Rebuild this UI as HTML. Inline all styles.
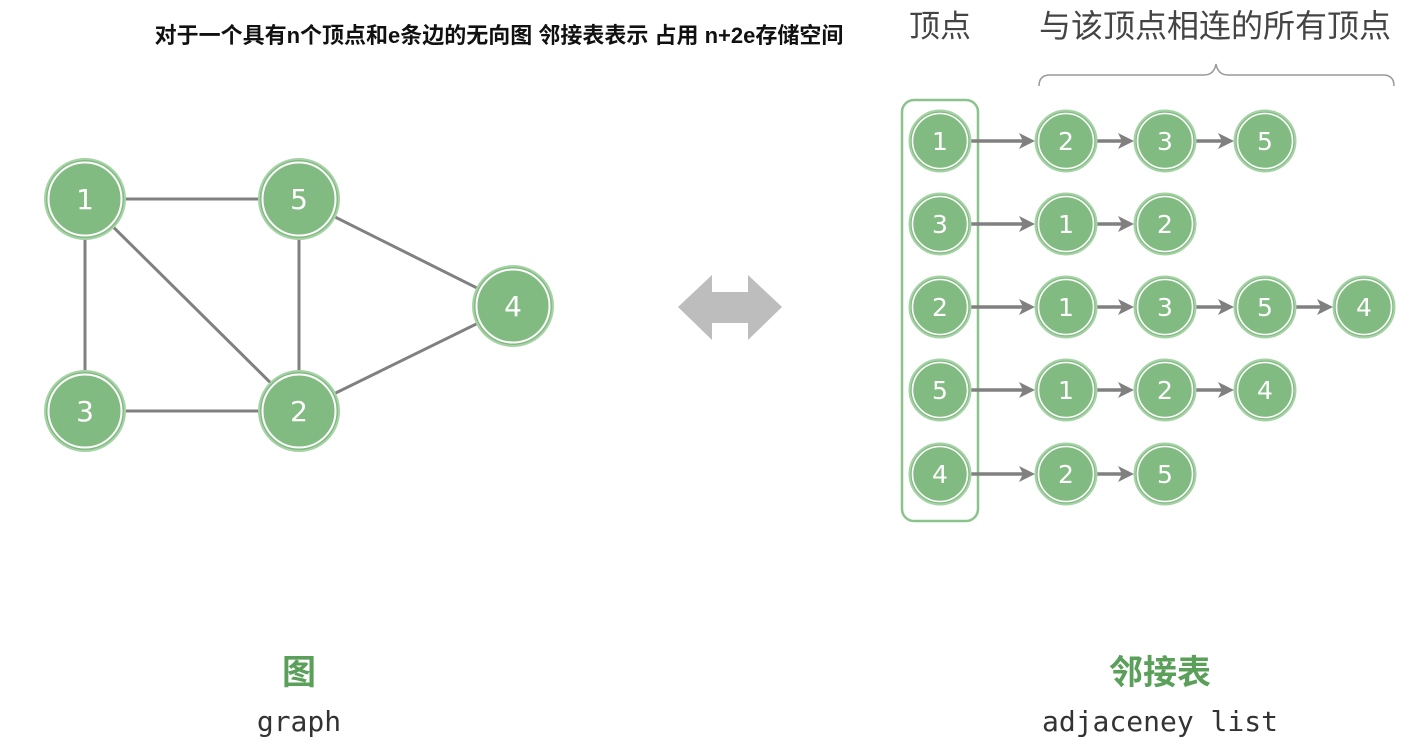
<!DOCTYPE html>
<html><head><meta charset="utf-8"><style>
body{margin:0;background:#fff;width:1415px;height:745px;overflow:hidden}
</style></head><body>
<svg width="1415" height="745" xmlns="http://www.w3.org/2000/svg">
<defs>
<g id="gn"><circle r="40" fill="#82bb82" stroke="#a6d3a6" stroke-width="2"/><circle r="36.5" fill="none" stroke="#fff" stroke-width="2"/></g>
<g id="ln"><circle r="30.5" fill="#82bb82" stroke="#a6d3a6" stroke-width="2"/><circle r="27.5" fill="none" stroke="#fff" stroke-width="1.6"/></g>
<path id="ah" d="M-16,-8 L0,0 L-16,8 L-12,0 z" fill="#808080"/>
</defs>
<text x="499" y="43" font-family="Liberation Sans,'Noto Sans CJK SC',sans-serif" font-weight="bold" font-size="22" text-anchor="middle" fill="#111">对于一个具有n个顶点和e条边的无向图 邻接表表示 占用 n+2e存储空间</text>
<text x="940" y="37" font-family="'Noto Sans CJK SC',sans-serif" font-size="31" text-anchor="middle" fill="#444">顶点</text>
<text x="1215" y="37" font-family="'Noto Sans CJK SC',sans-serif" font-size="32" text-anchor="middle" fill="#444">与该顶点相连的所有顶点</text>
<path d="M1039,86 Q1039,75 1050,75 L1204,75 Q1214,75 1216,64 Q1218,75 1228,75 L1383,75 Q1394,75 1394,86" fill="none" stroke="#999" stroke-width="1.5"/>
<g stroke="#808080" stroke-width="3">
<line x1="85" y1="199" x2="299" y2="199"/><line x1="85" y1="199" x2="85" y2="411"/>
<line x1="85" y1="199" x2="299" y2="411"/><line x1="299" y1="199" x2="299" y2="411"/>
<line x1="299" y1="199" x2="513" y2="306"/><line x1="85" y1="411" x2="299" y2="411"/>
<line x1="299" y1="411" x2="513" y2="306"/>
</g>
<g font-family="DejaVu Sans,sans-serif" font-size="28" fill="#fff" text-anchor="middle">
<use href="#gn" x="85" y="199"/><text x="85" y="209">1</text>
<use href="#gn" x="299" y="199"/><text x="299" y="209">5</text>
<use href="#gn" x="513" y="306"/><text x="513" y="316">4</text>
<use href="#gn" x="85" y="411"/><text x="85" y="421">3</text>
<use href="#gn" x="299" y="411"/><text x="299" y="421">2</text>
</g>
<path d="M678,307 L712,275 L712,292 L748,292 L748,275 L782,307 L748,340 L748,323 L712,323 L712,340 Z" fill="#bdbdbd"/>
<rect x="902" y="100" width="76" height="421" rx="12" fill="none" stroke="#8cc38c" stroke-width="2.5"/>
<g stroke="#808080" stroke-width="3.5">
<line x1="971" y1="141" x2="1024" y2="141"/><line x1="1097" y1="141" x2="1123" y2="141"/><line x1="1196" y1="141" x2="1223" y2="141"/>
<line x1="971" y1="224" x2="1024" y2="224"/><line x1="1097" y1="224" x2="1123" y2="224"/>
<line x1="971" y1="307" x2="1024" y2="307"/><line x1="1097" y1="307" x2="1123" y2="307"/><line x1="1196" y1="307" x2="1223" y2="307"/><line x1="1296" y1="307" x2="1322" y2="307"/>
<line x1="971" y1="390" x2="1024" y2="390"/><line x1="1097" y1="390" x2="1123" y2="390"/><line x1="1196" y1="390" x2="1223" y2="390"/>
<line x1="971" y1="474" x2="1024" y2="474"/><line x1="1097" y1="474" x2="1123" y2="474"/>
</g>
<use href="#ah" x="1035" y="141"/><use href="#ah" x="1134" y="141"/><use href="#ah" x="1234" y="141"/>
<use href="#ah" x="1035" y="224"/><use href="#ah" x="1134" y="224"/>
<use href="#ah" x="1035" y="307"/><use href="#ah" x="1134" y="307"/><use href="#ah" x="1234" y="307"/><use href="#ah" x="1333" y="307"/>
<use href="#ah" x="1035" y="390"/><use href="#ah" x="1134" y="390"/><use href="#ah" x="1234" y="390"/>
<use href="#ah" x="1035" y="474"/><use href="#ah" x="1134" y="474"/>
<g font-family="DejaVu Sans,sans-serif" font-size="25" fill="#fff" text-anchor="middle">
<use href="#ln" x="940" y="141"/><text x="940" y="150">1</text>
<use href="#ln" x="1066" y="141"/><text x="1066" y="150">2</text>
<use href="#ln" x="1165" y="141"/><text x="1165" y="150">3</text>
<use href="#ln" x="1265" y="141"/><text x="1265" y="150">5</text>
<use href="#ln" x="940" y="224"/><text x="940" y="233">3</text>
<use href="#ln" x="1066" y="224"/><text x="1066" y="233">1</text>
<use href="#ln" x="1165" y="224"/><text x="1165" y="233">2</text>
<use href="#ln" x="940" y="307"/><text x="940" y="316">2</text>
<use href="#ln" x="1066" y="307"/><text x="1066" y="316">1</text>
<use href="#ln" x="1165" y="307"/><text x="1165" y="316">3</text>
<use href="#ln" x="1265" y="307"/><text x="1265" y="316">5</text>
<use href="#ln" x="1364" y="307"/><text x="1364" y="316">4</text>
<use href="#ln" x="940" y="390"/><text x="940" y="399">5</text>
<use href="#ln" x="1066" y="390"/><text x="1066" y="399">1</text>
<use href="#ln" x="1165" y="390"/><text x="1165" y="399">2</text>
<use href="#ln" x="1265" y="390"/><text x="1265" y="399">4</text>
<use href="#ln" x="940" y="474"/><text x="940" y="483">4</text>
<use href="#ln" x="1066" y="474"/><text x="1066" y="483">2</text>
<use href="#ln" x="1165" y="474"/><text x="1165" y="483">5</text>
</g>
<text x="299" y="684" font-family="'Noto Sans CJK SC',sans-serif" font-weight="bold" font-size="34" text-anchor="middle" fill="#5aa05a">图</text>
<text x="299" y="731" font-family="DejaVu Sans Mono,monospace" font-size="28" text-anchor="middle" fill="#333">graph</text>
<text x="1160" y="684" font-family="'Noto Sans CJK SC',sans-serif" font-weight="bold" font-size="34" text-anchor="middle" fill="#5aa05a">邻接表</text>
<text x="1160" y="731" font-family="DejaVu Sans Mono,monospace" font-size="28" text-anchor="middle" fill="#333">adjaceney list</text>
</svg>
</body></html>
